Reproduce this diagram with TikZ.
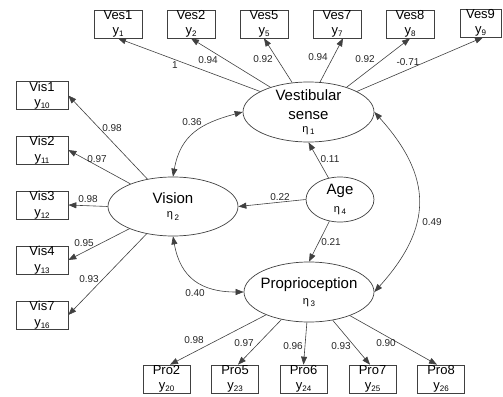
\documentclass[tikz,border=0pt]{standalone}
\usepackage{fontspec}
\setmainfont{Liberation Sans}
\usetikzlibrary{arrows.meta,shapes.geometric}

% eta with a lowered index, as used under the latent variable names
\newcommand{\etaidx}[1]{{\fontsize{11}{11}\selectfont η}\kern1.5pt\raisebox{-2.5pt}{\fontsize{8}{8}\selectfont #1}}
% indicator symbol y with a lowered index
\newcommand{\yidx}[1]{y\raisebox{-2pt}{\fontsize{8}{8}\selectfont #1}}

\begin{document}
\begin{tikzpicture}[x=1pt,y=1pt,
  obs/.style={draw=black!75, line width=0.7pt, minimum width=48pt, minimum height=28pt,
    inner sep=0pt, align=center, font=\fontsize{13}{15.5}\selectfont},
  lat/.style={draw=black!75, line width=0.7pt, ellipse, inner sep=0pt},
  lattext/.style={align=center, inner sep=0pt, font=\fontsize{15}{18}\selectfont},
  load/.style={draw=black!75, line width=0.6pt, -{Triangle[length=8pt,width=6pt]}},
  cov/.style={draw=black!75, line width=0.6pt,
    {Triangle[length=8pt,width=6pt]}-{Triangle[length=8pt,width=6pt]}},
  coef/.style={font=\fontsize{10}{10}\selectfont, text=black!85, inner sep=0pt}]

\useasboundingbox (0,0) rectangle (503,-396);

% ---- latent variables ----
\node[lat, minimum width=131pt, minimum height=60pt] (vest) at (308.5,-112) {};
\node[lat, minimum width=130pt, minimum height=59pt] (vision) at (173,-206.5) {};
\node[lat, minimum width=68pt, minimum height=45pt] (age) at (340,-199.5) {};
\node[lat, minimum width=130pt, minimum height=60pt] (pro) at (309,-292) {};

\node[lattext] (vestlab) at (vest) {Vestibular\\[1pt]sense\\[-5pt]\etaidx{1}};
\node[lattext] (visionlab) at (vision) {Vision\\[-4pt]\etaidx{2}};
\node[lattext] (agelab) at (age) {Age\\[0pt]\etaidx{4}};
\node[lattext] (prolab) at (pro) {Proprioception\\[-2pt]\etaidx{3}};

% ---- vestibular indicators ----
\node[obs] (ves1) at (118,-24) {Ves1\\\yidx{1}};
\node[obs] (ves2) at (191,-24) {Ves2\\\yidx{2}};
\node[obs] (ves5) at (264,-24) {Ves5\\\yidx{5}};
\node[obs] (ves7) at (337,-24) {Ves7\\\yidx{7}};
\node[obs] (ves8) at (410,-24) {Ves8\\\yidx{8}};
\node[obs, minimum width=41pt] (ves9) at (480.5,-23) {Ves9\\\yidx{9}};

% ---- vision indicators ----
\node[obs, minimum width=52pt] (vis1) at (42,-95.5) {Vis1\\\yidx{10}};
\node[obs, minimum width=52pt] (vis2) at (42,-150) {Vis2\\\yidx{11}};
\node[obs, minimum width=52pt] (vis3) at (42,-205) {Vis3\\\yidx{12}};
\node[obs, minimum width=52pt] (vis4) at (42,-260) {Vis4\\\yidx{13}};
\node[obs, minimum width=52pt] (vis7) at (42,-315) {Vis7\\\yidx{16}};

% ---- proprioception indicators ----
\node[obs, minimum width=47pt] (pro2) at (166.5,-379) {Pro2\\\yidx{20}};
\node[obs, minimum width=47pt] (pro5) at (235,-379) {Pro5\\\yidx{23}};
\node[obs, minimum width=47pt] (pro6) at (303.5,-379) {Pro6\\\yidx{24}};
\node[obs, minimum width=47pt] (pro7) at (372.5,-379) {Pro7\\\yidx{25}};
\node[obs, minimum width=47pt] (pro8) at (441,-379) {Pro8\\\yidx{26}};

% ---- loadings ----
\draw[load] (vest.157) -- (ves1.south);
\draw[load] (vest.147) -- (ves2.south);
\draw[load] (vest.119) -- (ves5.south);
\draw[load] (vest.69) -- ([xshift=6pt]ves7.south);
\draw[load] (vest.33) -- (ves8.south);
\draw[load] (vest.23) -- ([xshift=2.5pt]ves9.south);

\draw[load] (vision.133) -- (vis1.east);
\draw[load] (vision.152) -- (vis2.east);
\draw[load] (vision.180) -- (vis3.east);
\draw[load] (vision.207) -- (vis4.east);
\draw[load] (vision.226) -- (vis7.east);

\draw[load] (pro.208) -- ([xshift=3.5pt]pro2.north);
\draw[load] (pro.225) -- ([xshift=3pt]pro5.north);
\draw[load] (pro.266) -- (pro6.north);
\draw[load] (pro.310) -- ([xshift=-2.5pt]pro7.north);
\draw[load] (pro.330) -- ([xshift=-4pt]pro8.north);

% ---- structural paths from age ----
\draw[load] (age.118) -- (vest.south);
\draw[load] (age.west) -- (vision.east);
\draw[load] (age.244) -- (pro.north);

% ---- covariances ----
\draw[cov] (vision.north) to[out=80, in=195, looseness=1.15] (vest.west);
\draw[cov] (vision.south) to[out=-80, in=180, looseness=1.2] (pro.west);
\draw[cov] (vest.east) to[out=-48, in=48, looseness=1.25] (pro.east);

% ---- coefficients ----
\node[coef] (c1) at (175,-65) {1};
\node[coef] (c2) at (208,-60) {0.94};
\node[coef] (c5) at (263,-59) {0.92};
\node[coef] (c7) at (318,-57) {0.94};
\node[coef] (c8) at (365,-59) {0.92};
\node[coef] (c9) at (408,-62) {-0.71};

\node[coef] (c10) at (112,-128) {0.98};
\node[coef] (c11) at (97,-159) {0.97};
\node[coef] (c12) at (88,-199) {0.98};
\node[coef] (c13) at (84,-243) {0.95};
\node[coef] (c16) at (89,-279) {0.93};

\node[coef] (c20) at (194,-340) {0.98};
\node[coef] (c23) at (244,-343) {0.97};
\node[coef] (c24) at (293,-346) {0.96};
\node[coef] (c25) at (341,-346) {0.93};
\node[coef] (c26) at (386,-343) {0.90};

\node[coef] (g1) at (330,-159) {0.11};
\node[coef] (g2) at (280,-197) {0.22};
\node[coef] (g3) at (331,-242) {0.21};

\node[coef] (r12) at (192,-122) {0.36};
\node[coef] (r23) at (195,-293) {0.40};
\node[coef] (r13) at (432,-222) {0.49};
\end{tikzpicture}
\end{document}
